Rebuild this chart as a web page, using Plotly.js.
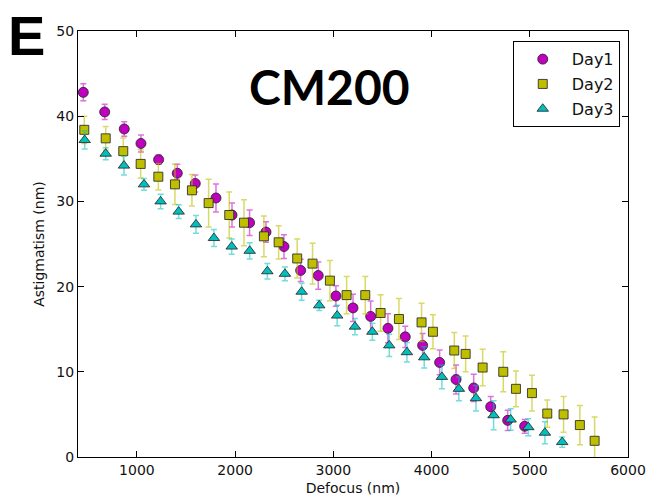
<!DOCTYPE html>
<html>
<head>
<meta charset="utf-8">
<script src="https://cdn.plot.ly/plotly-3.0.1.min.js"></script>
<style>
  html, body { margin: 0; padding: 0; background: #fff; }
  #chart { width: 648px; height: 501px; }
</style>
</head>
<body>
<div id="chart"></div>
<script>
// Astigmatism vs defocus, three measurement days (mean ± error)
const day1X = [454, 672, 871, 1041, 1221, 1411, 1594, 1805, 1968, 2147, 2314, 2497, 2667, 2846, 3026, 3200, 3380, 3556, 3732, 3909, 4082, 4249, 4429, 4602, 4775, 4948];
const day1Y = [42.8, 40.5, 38.5, 36.8, 34.9, 33.3, 32.1, 30.4, 28.4, 27.5, 26.4, 24.7, 21.9, 21.3, 18.9, 17.5, 16.5, 15.1, 14.1, 13.1, 11.1, 9.1, 8.1, 5.9, 4.3, 3.6];
const day1Err = [1.0, 0.9, 0.86, 1.0, 0.55, 1.05, 1.0, 1.65, 1.4, 1.5, 1.2, 1.4, 1.3, 1.6, 1.2, 1.6, 1.8, 1.7, 1.25, 1.4, 1.45, 1.7, 1.6, 1.2, 1.2, 0.8];

const day2X = [464, 682, 861, 1038, 1218, 1387, 1560, 1730, 1940, 2090, 2293, 2443, 2632, 2788, 2965, 3135, 3325, 3481, 3668, 3898, 4014, 4231, 4347, 4520, 4730, 4859, 5022, 5178, 5344, 5510, 5660];
const day2Y = [38.4, 37.4, 35.9, 34.4, 32.9, 32.0, 31.3, 29.8, 28.4, 27.5, 25.9, 25.2, 23.3, 22.7, 20.7, 19.0, 19.0, 16.9, 16.2, 15.8, 14.7, 12.5, 12.1, 10.5, 10.0, 8.0, 7.5, 5.1, 5.0, 3.75, 1.9];
const day2Err = [1.6, 1.4, 1.55, 1.65, 1.55, 2.35, 1.85, 2.8, 2.7, 2.7, 2.4, 1.95, 2.3, 2.4, 2.35, 2.2, 2.2, 2.15, 2.4, 2.25, 2.0, 2.1, 2.1, 2.15, 2.35, 2.1, 2.1, 1.6, 2.1, 2.3, 2.8];

const day3X = [468, 682, 868, 1072, 1241, 1425, 1601, 1784, 1965, 2148, 2328, 2507, 2677, 2856, 3039, 3220, 3397, 3569, 3749, 3925, 4105, 4278, 4452, 4632, 4805, 4985, 5154, 5330];
const day3Y = [37.2, 35.6, 34.2, 32.0, 30.0, 28.8, 27.3, 25.7, 24.7, 24.2, 21.8, 21.5, 19.4, 17.8, 16.6, 15.3, 14.7, 13.1, 12.3, 11.7, 9.4, 8.0, 6.9, 4.9, 4.4, 3.5, 2.85, 1.75];
const day3Err = [1.05, 0.7, 1.1, 0.7, 0.85, 0.8, 1.05, 1.0, 0.9, 0.95, 0.9, 0.8, 1.0, 0.6, 1.2, 0.95, 1.0, 1.3, 1.15, 1.25, 1.4, 1.4, 1.5, 1.7, 1.25, 1.0, 1.3, 0.6];

const seriesNames = ['Day1', 'Day2', 'Day3'];
const xTicks = [1000, 2000, 3000, 4000, 5000, 6000];
const yTicks = [0, 10, 20, 30, 40, 50];

function series(name, xs, ys, errs, color, errColor, symbol, size) {
  return {
    type: 'scatter', mode: 'markers', name: name, legendgroup: name,
    x: xs, y: ys,
    error_y: { type: 'data', array: errs, visible: true, color: errColor, thickness: 1.5, width: 3 },
    marker: { symbol: symbol, size: size, color: color, line: { color: 'rgba(40,40,40,0.85)', width: 1 } }
  };
}

const traces = [
  series(seriesNames[0], day1X, day1Y, day1Err, '#bf00bf', 'rgba(191,0,191,0.55)', 'circle', 10),
  series(seriesNames[1], day2X, day2Y, day2Err, '#bfbf00', 'rgba(191,191,0,0.6)', 'square', 9),
  series(seriesNames[2], day3X, day3Y, day3Err, '#00bfbf', 'rgba(0,191,191,0.55)', 'triangle-up', 10)
];

const axisFont = { family: 'DejaVu Sans, sans-serif', size: 14, color: '#111' };

const layout = {
  width: 648, height: 501,
  margin: { l: 78, r: 20, t: 31, b: 44 },
  paper_bgcolor: '#fff', plot_bgcolor: '#fff',
  showlegend: true,
  legend: {
    x: 0.985, y: 0.976, xanchor: 'right', yanchor: 'top',
    bgcolor: '#fff', bordercolor: '#000', borderwidth: 1,
    traceorder: 'grouped', tracegroupgap: 1, itemwidth: 48,
    font: { family: 'DejaVu Sans, sans-serif', size: 16, color: '#111' }
  },
  xaxis: {
    range: [400, 6000], tickvals: xTicks, ticktext: xTicks.map(String),
    ticks: 'inside', ticklen: 6, tickcolor: '#000',
    showline: true, linecolor: '#000', linewidth: 1, mirror: 'ticks',
    showgrid: false, zeroline: false,
    tickfont: axisFont,
    title: { text: 'Defocus (nm)', font: axisFont, standoff: 6 }
  },
  yaxis: {
    range: [0, 50], tickvals: yTicks, ticktext: yTicks.map(String),
    ticks: 'inside', ticklen: 6, tickcolor: '#000',
    showline: true, linecolor: '#000', linewidth: 1, mirror: 'ticks',
    showgrid: false, zeroline: false,
    tickfont: axisFont,
    title: { text: 'Astigmatism (nm)', font: axisFont, standoff: 8 }
  },
  annotations: [
    { text: '<b>CM200</b>', xref: 'paper', yref: 'paper', x: 0.458, y: 0.87,
      xanchor: 'center', yanchor: 'middle', showarrow: false,
      font: { family: 'Lato, sans-serif', size: 48, color: '#000' } },
    { text: '<b>E</b>', xref: 'paper', yref: 'paper', x: -0.093, y: 0.99,
      xanchor: 'center', yanchor: 'middle', showarrow: false,
      font: { family: 'Liberation Sans, Arial, sans-serif', size: 56, color: '#000' } }
  ]
};

Plotly.newPlot('chart', traces, layout, { displayModeBar: false, staticPlot: true });
</script>
</body>
</html>
